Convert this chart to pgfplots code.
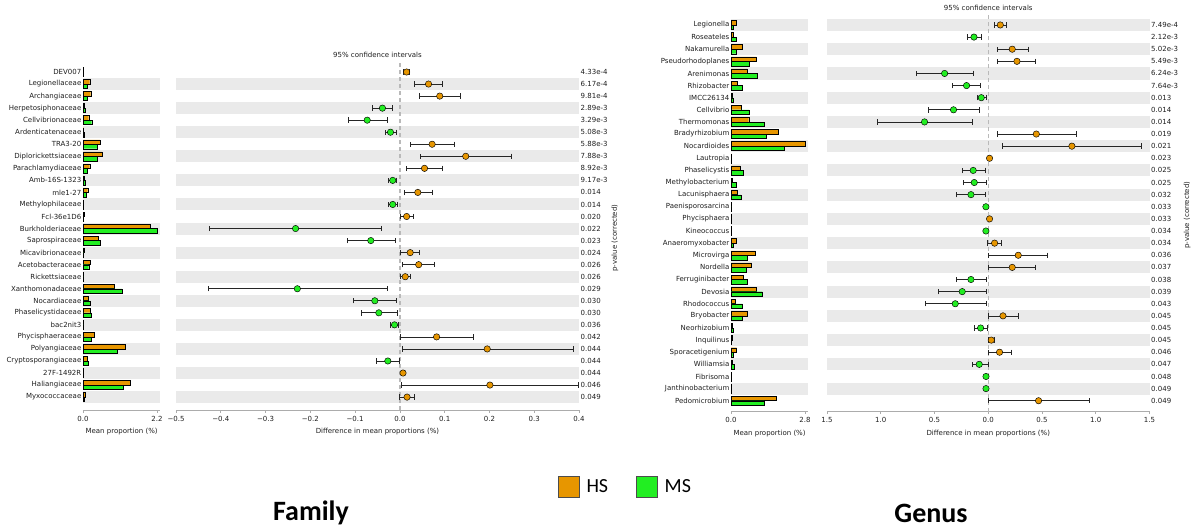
\documentclass[border=0pt]{standalone}
\usepackage{pgfplots}
\pgfplotsset{compat=1.18}
\usepackage{pgfplotstable}
\usepackage{fontspec}
\setmainfont{DejaVu Sans}
\newfontfamily\calibri{Carlito}

\definecolor{HS}{RGB}{231,150,0}
\definecolor{MS}{RGB}{34,238,34}
\definecolor{band}{RGB}{234,234,234}
\definecolor{txt}{RGB}{30,30,30}
\newcommand\smallfont{\fontsize{7}{8.4}\selectfont}

% Family level: mean proportions (%) and difference with 95% CI
\pgfplotstableread{
i hs ms d lo hi
1 0.02 0.01 0.015 0.008 0.022
2 0.20 0.12 0.064 0.033 0.094
3 0.23 0.12 0.089 0.043 0.135
4 0.04 0.07 -0.039 -0.062 -0.017
5 0.17 0.26 -0.073 -0.116 -0.029
6 0.02 0.03 -0.021 -0.032 -0.008
7 0.50 0.43 0.072 0.023 0.121
8 0.56 0.42 0.147 0.045 0.248
9 0.20 0.12 0.055 0.015 0.094
10 0.03 0.06 -0.016 -0.025 -0.007
11 0.14 0.10 0.040 0.010 0.072
12 0.01 0.02 -0.016 -0.025 -0.005
13 0.03 0.01 0.015 0.001 0.029
14 2.00 2.21 -0.233 -0.425 -0.041
15 0.44 0.50 -0.065 -0.118 -0.011
16 0.03 0.02 0.023 0.002 0.044
17 0.21 0.17 0.042 0.006 0.078
18 0.02 0.015 0.012 0.002 0.023
19 0.93 1.16 -0.229 -0.428 -0.029
20 0.15 0.22 -0.056 -0.105 -0.008
21 0.21 0.25 -0.047 -0.087 -0.006
22 0.01 0.02 -0.012 -0.022 -0.003
23 0.34 0.25 0.082 0.002 0.163
24 1.25 1.03 0.195 0.005 0.387
25 0.12 0.15 -0.027 -0.052 -0.002
26 0.01 0.005 0.007 0.003 0.011
27 1.41 1.20 0.201 0.003 0.399
28 0.06 0.05 0.016 -0.001 0.033
}\famtbl

% Genus level
\pgfplotstableread{
i hs ms d lo hi
1 0.21 0.10 0.112 0.056 0.167
2 0.09 0.19 -0.133 -0.198 -0.065
3 0.44 0.21 0.223 0.081 0.369
4 0.96 0.68 0.267 0.087 0.440
5 0.62 1.00 -0.406 -0.670 -0.142
6 0.24 0.42 -0.202 -0.332 -0.071
7 0.03 0.09 -0.065 -0.105 -0.019
8 0.39 0.69 -0.323 -0.560 -0.081
9 0.67 1.24 -0.593 -1.030 -0.146
10 1.79 1.34 0.447 0.081 0.816
11 2.82 2.03 0.778 0.130 1.423
12 0.02 0.005 0.012 0.006 0.018
13 0.35 0.47 -0.140 -0.245 -0.028
14 0.06 0.18 -0.130 -0.230 -0.022
15 0.23 0.38 -0.161 -0.295 -0.025
16 0.005 0.025 -0.022 -0.028 -0.016
17 0.015 0.005 0.012 0.008 0.016
18 0.003 0.02 -0.022 -0.026 -0.018
19 0.18 0.09 0.059 -0.006 0.124
20 0.92 0.62 0.279 0.002 0.546
21 0.78 0.56 0.223 0.002 0.437
22 0.48 0.62 -0.161 -0.300 -0.016
23 0.95 1.19 -0.242 -0.462 -0.021
24 0.16 0.44 -0.307 -0.586 -0.016
25 0.62 0.44 0.137 0.000 0.276
26 0.03 0.10 -0.071 -0.130 -0.006
27 0.05 0.02 0.028 0.002 0.054
28 0.21 0.09 0.105 -0.003 0.214
29 0.04 0.11 -0.084 -0.152 -0.003
30 0.003 0.02 -0.021 -0.026 -0.016
31 0.003 0.02 -0.021 -0.026 -0.016
32 1.72 1.24 0.468 0.002 0.942
}\gentbl

\pgfplotsset{
  stamp/.style={
    scale only axis, clip=false,
    axis x line*=bottom,
    axis line style={-, draw=gray!65, line width=0.7pt},
    y axis line style={draw=none},
    y tick style={draw=none},
    x tick style={draw=gray!65, line width=0.6pt},
    xtick align=outside, ytick align=inside,
    major tick length=2.5pt,
    tick label style={font=\smallfont, text=txt},
    yticklabel style={inner sep=1.5pt},
    label style={font=\smallfont, text=txt},
    title style={font=\smallfont, text=txt, yshift=-1pt},
    /pgf/number format/assume math mode=true,
  },
  barpanel/.style={
    stamp, axis y line*=left,
    xmin=0, xlabel={Mean proportion (\%)},
  },
  diffpanel/.style={
    stamp, axis y line*=right,
    title={95\% confidence intervals},
    ylabel={p-value (corrected)},
  },
  hsbar/.style={xbar, bar shift=0pt, bar width=4.4pt, fill=HS, draw=black, line width=0.4pt},
  msbar/.style={xbar, bar shift=0pt, bar width=4.4pt, fill=MS, draw=black, line width=0.4pt},
  cipts/.style={only marks, mark=*, mark size=3.2pt,
    mark options={fill=#1, draw=black, line width=0.45pt},
    error bars/x dir=both, error bars/x explicit,
    error bars/error mark=|,
    error bars/error bar style={black!85, line width=0.7pt},
    error bars/error mark options={black!85, line width=0.7pt, mark size=2.7pt}},
}

\begin{document}
\begin{tikzpicture}[font=\smallfont]
\useasboundingbox (0,0) rectangle (1193pt,531pt);

%%%%%%%%%%%%%%%% Family: mean proportions
\begin{axis}[barpanel,
  at={(83pt,120.9pt)}, anchor=south west,
  width=77.3pt, height=344.1pt,
  xmax=2.3, ymin=-29.08, ymax=-0.5,
  xtick={0,2.2}, xticklabels={0.0,2.2},
  ytick={-1,-2,...,-28},
  yticklabels={DEV007,Legionellaceae,Archangiaceae,Herpetosiphonaceae,Cellvibrionaceae,Ardenticatenaceae,TRA3-20,Diplorickettsiaceae,Parachlamydiaceae,Amb-16S-1323,mle1-27,Methylophilaceae,Fcl-36e1D6,Burkholderiaceae,Saprospiraceae,Micavibrionaceae,Acetobacteraceae,Rickettsiaceae,Xanthomonadaceae,Nocardiaceae,Phaselicystidaceae,bac2nit3,Phycisphaeraceae,Polyangiaceae,Cryptosporangiaceae,27F-1492R,Haliangiaceae,Myxococcaceae},
]
\pgfplotsinvokeforeach{2,4,...,28}{
  \fill[band] (axis cs:0,-#1-0.5) rectangle (axis cs:2.3,-#1+0.5);
}
\addplot[hsbar] table[x=hs, y expr=-\thisrow{i}+0.19] {\famtbl};
\addplot[msbar] table[x=ms, y expr=-\thisrow{i}-0.19] {\famtbl};
\end{axis}

%%%%%%%%%%%%%%%% Family: difference in mean proportions
\begin{axis}[diffpanel,
  at={(176pt,120.9pt)}, anchor=south west,
  width=403pt, height=344.1pt,
  xmin=-0.5, xmax=0.4, ymin=-29.08, ymax=-0.5,
  xlabel={Difference in mean proportions (\%)},
  xtick={-0.5,-0.4,-0.3,-0.2,-0.1,0,0.1,0.2,0.3,0.4},
  xticklabels={−0.5,−0.4,−0.3,−0.2,−0.1,0.0,0.1,0.2,0.3,0.4},
  ytick={-1,-2,...,-28},
  yticklabels={4.33e-4,6.17e-4,9.81e-4,2.89e-3,3.29e-3,5.08e-3,5.88e-3,7.88e-3,8.92e-3,9.17e-3,0.014,0.014,0.020,0.022,0.023,0.024,0.026,0.026,0.029,0.030,0.030,0.036,0.042,0.044,0.044,0.044,0.046,0.049},
  ylabel style={at={(axis description cs:1.089,0.5)}, anchor=center},
]
\pgfplotsinvokeforeach{2,4,...,28}{
  \fill[band] (axis cs:-0.5,-#1-0.5) rectangle (axis cs:0.4,-#1+0.5);
}
\addplot[gray!55, line width=1.3pt, dash pattern=on 4pt off 3pt] coordinates {(0,-29.08) (0,-0.2)};
\addplot[restrict expr to domain={\thisrow{d}}{0:5}, cipts=HS]
  table[x=d, y expr=-\thisrow{i},
        x error plus expr=\thisrow{hi}-\thisrow{d},
        x error minus expr=\thisrow{d}-\thisrow{lo}] {\famtbl};
\addplot[restrict expr to domain={\thisrow{d}}{-5:0}, cipts=MS]
  table[x=d, y expr=-\thisrow{i},
        x error plus expr=\thisrow{hi}-\thisrow{d},
        x error minus expr=\thisrow{d}-\thisrow{lo}] {\famtbl};
\end{axis}

%%%%%%%%%%%%%%%% Genus: mean proportions
\begin{axis}[barpanel,
  at={(731pt,119.5pt)}, anchor=south west,
  width=77.1pt, height=392.6pt,
  xmax=2.92, ymin=-32.89, ymax=-0.5,
  xtick={0,2.8}, xticklabels={0.0,2.8},
  ytick={-1,-2,...,-32},
  yticklabels={Legionella,Roseateles,Nakamurella,Pseudorhodoplanes,Arenimonas,Rhizobacter,IMCC26134,Cellvibrio,Thermomonas,Bradyrhizobium,Nocardioides,Lautropia,Phaselicystis,Methylobacterium,Lacunisphaera,Paenisporosarcina,Phycisphaera,Kineococcus,Anaeromyxobacter,Microvirga,Nordella,Ferruginibacter,Devosia,Rhodococcus,Bryobacter,Neorhizobium,Inquilinus,Sporacetigenium,Williamsia,Fibrisoma,Janthinobacterium,Pedomicrobium},
]
\pgfplotsinvokeforeach{1,3,...,31}{
  \fill[band] (axis cs:0,-#1-0.5) rectangle (axis cs:2.92,-#1+0.5);
}
\addplot[hsbar] table[x=hs, y expr=-\thisrow{i}+0.19] {\gentbl};
\addplot[msbar] table[x=ms, y expr=-\thisrow{i}-0.19] {\gentbl};
\end{axis}

%%%%%%%%%%%%%%%% Genus: difference in mean proportions
\begin{axis}[diffpanel,
  at={(827pt,119.5pt)}, anchor=south west,
  width=322.5pt, height=392.6pt,
  xmin=-1.5, xmax=1.5, ymin=-32.89, ymax=-0.5,
  xlabel={Difference in mean proportions (\%)},
  xtick={-1.5,-1,-0.5,0,0.5,1,1.5},
  xticklabels={1.5,1.0,0.5,0.0,0.5,1.0,1.5},
  ytick={-1,-2,...,-32},
  yticklabels={7.49e-4,2.12e-3,5.02e-3,5.49e-3,6.24e-3,7.64e-3,0.013,0.014,0.014,0.019,0.021,0.023,0.025,0.025,0.032,0.033,0.033,0.034,0.034,0.036,0.037,0.038,0.039,0.043,0.045,0.045,0.045,0.046,0.047,0.048,0.049,0.049},
  ylabel style={at={(axis description cs:1.117,0.5)}, anchor=center},
]
\pgfplotsinvokeforeach{1,3,...,31}{
  \fill[band] (axis cs:-1.5,-#1-0.5) rectangle (axis cs:1.5,-#1+0.5);
}
\addplot[gray!55, line width=1.3pt, dash pattern=on 4pt off 3pt] coordinates {(0,-32.89) (0,-0.1)};
\addplot[restrict expr to domain={\thisrow{d}}{0:5}, cipts=HS]
  table[x=d, y expr=-\thisrow{i},
        x error plus expr=\thisrow{hi}-\thisrow{d},
        x error minus expr=\thisrow{d}-\thisrow{lo}] {\gentbl};
\addplot[restrict expr to domain={\thisrow{d}}{-5:0}, cipts=MS]
  table[x=d, y expr=-\thisrow{i},
        x error plus expr=\thisrow{hi}-\thisrow{d},
        x error minus expr=\thisrow{d}-\thisrow{lo}] {\gentbl};
\end{axis}

%%%%%%%%%%%%%%%% Group legend
\begin{axis}[
  at={(625.5pt,44.5pt)}, anchor=center,
  scale only axis, width=1pt, height=1pt, hide axis,
  xmin=0, xmax=1, ymin=0, ymax=1,
  legend columns=2,
  legend style={at={(0.5,0.5)}, anchor=center, draw=none, fill=none,
    font=\calibri\fontsize{20}{23}\selectfont,
    /tikz/every odd column/.append style={column sep=5pt},
    /tikz/every even column/.append style={column sep=26pt}},
  legend image code/.code={\draw[#1] (0pt,-10.5pt) rectangle (21pt,10.5pt);},
]
\addlegendimage{fill=HS, draw=black!70, line width=0.5pt}
\addlegendentry{HS}
\addlegendimage{fill=MS, draw=black!70, line width=0.5pt}
\addlegendentry{MS}
\end{axis}

\node[font=\calibri\bfseries\fontsize{28}{31}\selectfont] at (311pt,18pt) {Family};
\node[font=\calibri\bfseries\fontsize{28}{31}\selectfont] at (931pt,18pt) {Genus};
\end{tikzpicture}
\end{document}
